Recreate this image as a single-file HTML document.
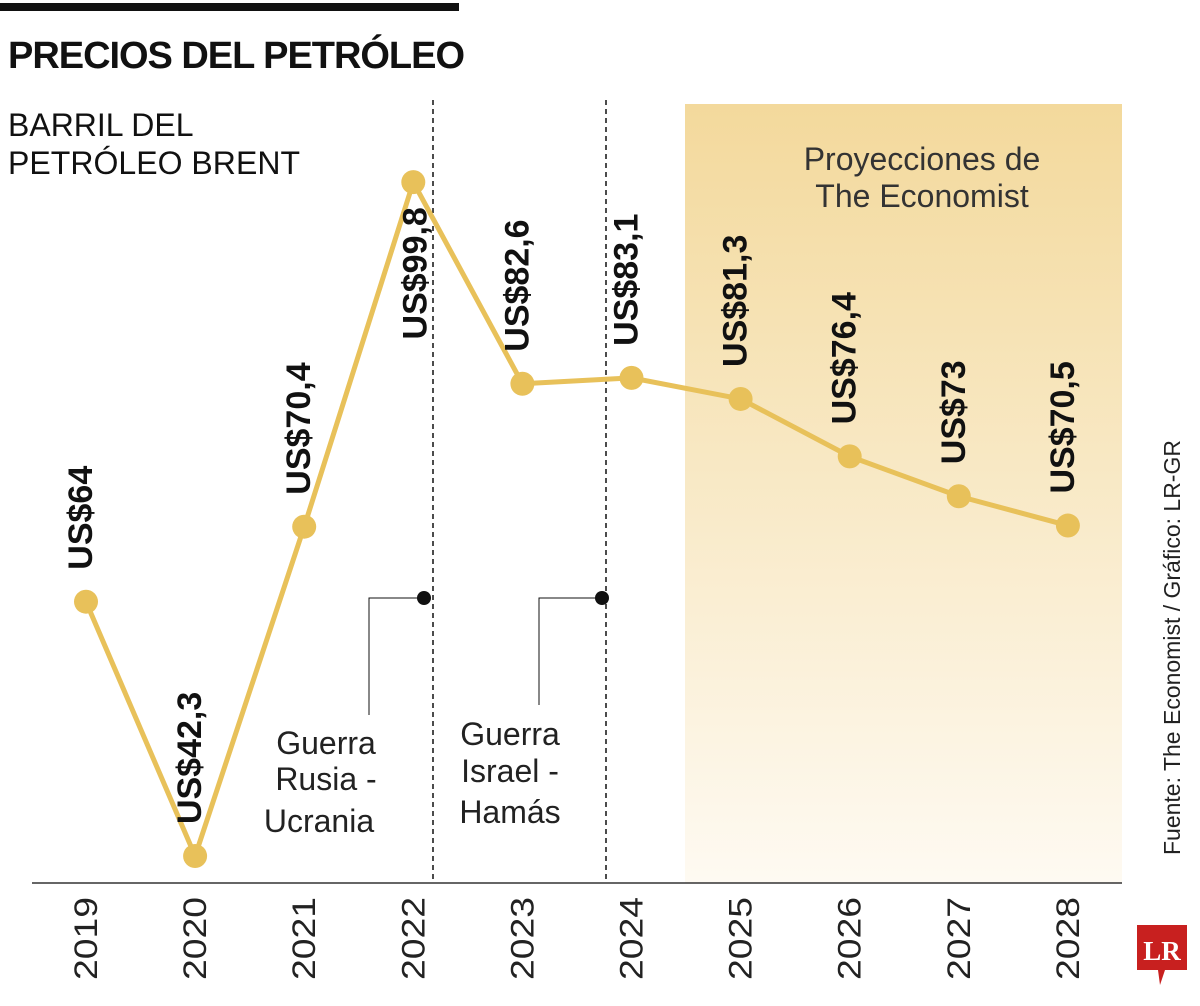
<!DOCTYPE html>
<html><head><meta charset="utf-8"><style>
body{margin:0;background:#fff;width:1200px;height:1001px;overflow:hidden}
svg{font-family:"Liberation Sans",sans-serif}
</style></head><body>
<svg id="c" width="1200" height="1001" viewBox="0 0 1200 1001">
<defs><linearGradient id="g" x1="0" y1="0" x2="0" y2="1"><stop offset="0" stop-color="#f3d99c"/><stop offset="1" stop-color="#fefaf2"/></linearGradient></defs>
<rect x="0" y="3" width="459" height="8" fill="#111"/>
<text x="8" y="68" font-size="38" font-weight="bold" fill="#111" textLength="457">PRECIOS DEL PETRÓLEO</text>
<text x="8" y="136" font-size="32" fill="#111">BARRIL DEL</text>
<text x="8" y="174" font-size="32" fill="#111" textLength="292">PETRÓLEO BRENT</text>
<rect x="685" y="104" width="437" height="779" fill="url(#g)"/>
<text x="922" y="170" font-size="32" fill="#333" text-anchor="middle">Proyecciones de</text>
<text x="922" y="207" font-size="32" fill="#333" text-anchor="middle">The Economist</text>
<line x1="433" y1="100" x2="433" y2="883" stroke="#111" stroke-width="1.5" stroke-dasharray="5,4"/>
<line x1="606" y1="100" x2="606" y2="883" stroke="#111" stroke-width="1.5" stroke-dasharray="5,4"/>
<polyline points="424,598 369,598 369,715" fill="none" stroke="#111" stroke-width="1"/>
<circle cx="424" cy="598" r="7" fill="#111"/>
<polyline points="602,598 539,598 539,705" fill="none" stroke="#111" stroke-width="1"/>
<circle cx="602" cy="598" r="7" fill="#111"/>
<g font-size="32" fill="#222" text-anchor="middle">
<text x="326" y="754">Guerra</text><text x="326" y="790">Rusia -</text><text x="319" y="832">Ucrania</text></g>
<g font-size="32" fill="#222" text-anchor="middle">
<text x="510" y="745">Guerra</text><text x="510" y="782">Israel -</text><text x="510" y="823">Hamás</text></g>
<line x1="32" y1="883" x2="1122" y2="883" stroke="#333" stroke-width="1.5"/>
<g id="marks"></g>
<text transform="translate(1180,855) rotate(-90)" font-size="23" fill="#222" textLength="415">Fuente: The Economist / Gráfico: LR-GR</text>
<g>
<path d="M1137,925 H1187 V970 H1165 L1160,985 L1158,970 H1137 Z" fill="#c8201f"/>
<text x="1162" y="960" font-size="27" font-weight="bold" fill="#fff" text-anchor="middle" font-family="Liberation Serif,serif">LR</text>
</g>
</svg>
<script>
const years=["2019","2020","2021","2022","2023","2024","2025","2026","2027","2028"];
const prices=[64,42.3,70.4,99.8,82.6,83.1,81.3,76.4,73,70.5];
const labels=["US$64","US$42,3","US$70,4","US$99,8","US$82,6","US$83,1","US$81,3","US$76,4","US$73","US$70,5"];
const NS="http://www.w3.org/2000/svg";
const xs=i=>86+i*109.1;
const ys=v=>883-(v-40)*11.72;
const g=document.getElementById('marks');
function mk(t,a){const e=document.createElementNS(NS,t);for(const k in a)e.setAttribute(k,a[k]);g.appendChild(e);return e;}
const line=mk('polyline',{points:prices.map((v,i)=>xs(i)+','+ys(v)).join(' '),fill:'none',stroke:'#e8c15a','stroke-width':5,'stroke-linejoin':'round'});


const maxV=Math.max(...prices);
prices.forEach((v,i)=>{
  const x=xs(i),y=ys(v);
  const c=mk('circle',{cx:x,cy:y,r:12,fill:'#e8c15a'});
  
  
  let t;
  if(v===maxV){
    t=mk('text',{transform:`translate(${x+13},${y+25}) rotate(-90)`,'font-size':34,'font-weight':'bold',fill:'#111','text-anchor':'end'});
  }else{
    t=mk('text',{transform:`translate(${x+6},${y-32}) rotate(-90)`,'font-size':34,'font-weight':'bold',fill:'#111'});
  }
  t.textContent=labels[i];
  
  
  const yl=mk('text',{transform:`translate(${x+11},897) rotate(-90)`,'font-size':32,fill:'#222','text-anchor':'end',textLength:83,lengthAdjust:'spacingAndGlyphs'});
  yl.textContent=years[i];
  
  
});
</script>
</body></html>
